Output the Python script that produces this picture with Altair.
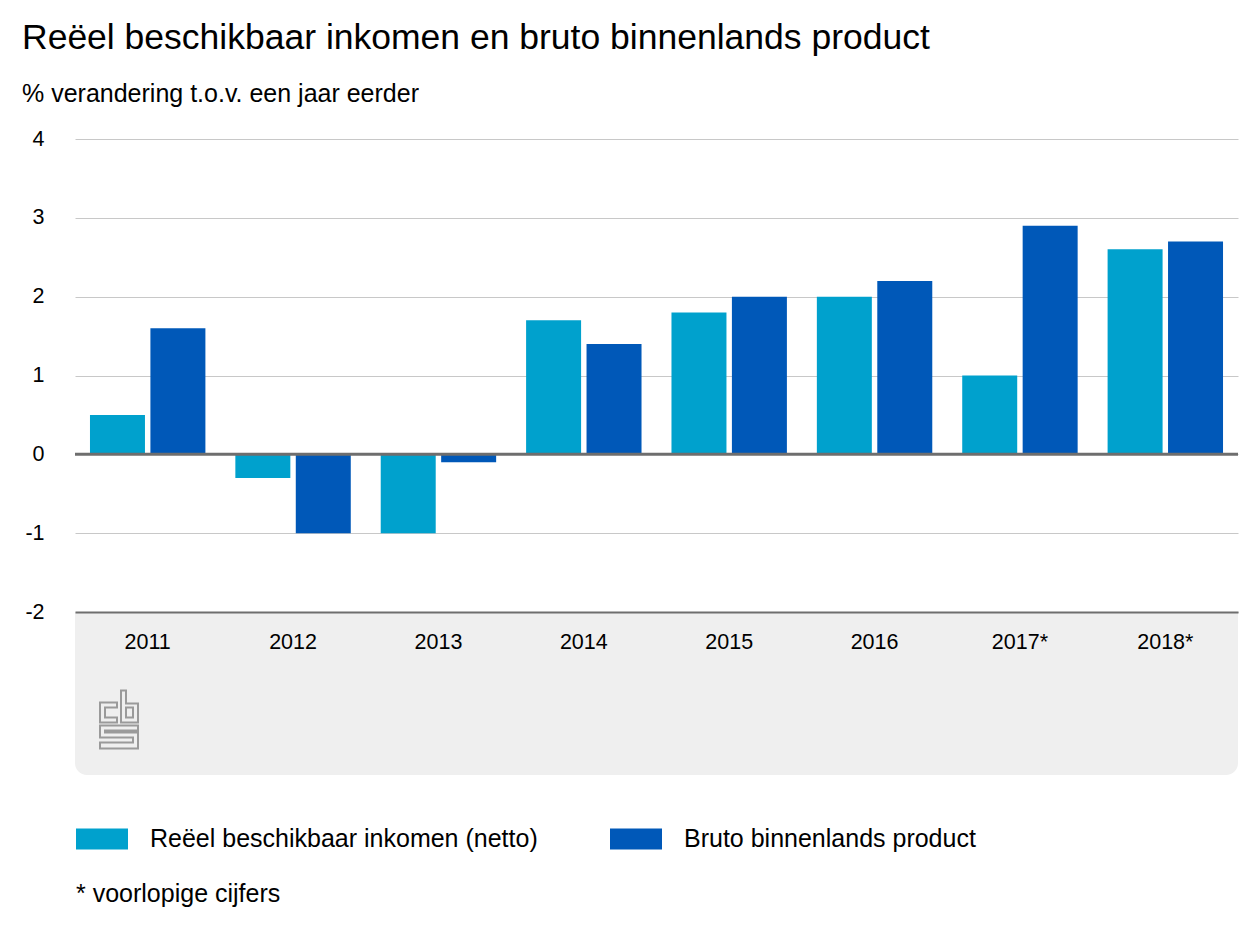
import altair as alt
import pandas as pd

years = ["2011", "2012", "2013", "2014", "2015", "2016", "2017*", "2018*"]
inkomen = [0.5, -0.3, -1.0, 1.7, 1.8, 2.0, 1.0, 2.6]
bbp = [1.6, -1.0, -0.1, 1.4, 2.0, 2.2, 2.9, 2.7]
series = ["Reëel beschikbaar inkomen (netto)", "Bruto binnenlands product"]
colors = ["#00a1cd", "#0058b8"]
y_ticks = [-2, -1, 0, 1, 2, 3, 4]

rows = []
for yr, a, b in zip(years, inkomen, bbp):
    rows.append({"jaar": yr, "reeks": series[0], "waarde": a})
    rows.append({"jaar": yr, "reeks": series[1], "waarde": b})
df = pd.DataFrame(rows)

W, H = 1163, 473
FONT = "Liberation Sans"

# logo outline (pixel units inside a 39x58 box), converted to unit coords
logo_px = [
    [(17, 12), (0, 12), (0, 32), (17, 32), (17, 27), (5, 27), (5, 17), (17, 17)],
    [(21, 0), (26, 0), (26, 13), (38, 13), (38, 32), (21, 32)],
    [(26, 17), (33, 17), (33, 27), (26, 27)],
    [(38, 35), (0, 35), (0, 47), (33, 47), (33, 52), (0, 52), (0, 58), (38, 58),
     (38, 42), (5, 42), (5, 40), (38, 40)],
]
def to_unit(p):
    return ((p[0] - 19.5) / 29.0, (p[1] - 29.0) / 29.0)
parts = []
for poly in logo_px:
    pts = [to_unit(p) for p in poly]
    parts.append("M" + " L".join(f"{x:.3f},{y:.3f}" for x, y in pts) + " Z")
logo_path = " ".join(parts)

swatch = "M-1,-0.4 L1,-0.4 L1,0.4 L-1,0.4 Z"

one = pd.DataFrame({"a": [0]})

panel = alt.Chart(one).mark_rect(
    color="#efefef", cornerRadiusBottomLeft=12, cornerRadiusBottomRight=12
).encode(x=alt.value(0), x2=alt.value(W), y=alt.value(H), y2=alt.value(H + 163))

bars = alt.Chart(df).mark_bar().encode(
    x=alt.X("jaar:N", sort=years,
            scale=alt.Scale(paddingInner=0.206, paddingOuter=0.103),
            axis=alt.Axis(title=None, labelAngle=0, labelFontSize=21.5, labelColor="#000",
                          labelPadding=19, ticks=False, domainColor="#6e6e6e",
                          domainWidth=2, zindex=1, labelFont=FONT, grid=False)),
    xOffset=alt.XOffset("reeks:N", sort=series,
                        scale=alt.Scale(paddingInner=0.09, paddingOuter=0)),
    y=alt.Y("waarde:Q", scale=alt.Scale(domain=[-2, 4], nice=False),
            axis=alt.Axis(title=None, values=y_ticks,
                          labelExpr="(datum.value < 0 ? '-' : '') + abs(datum.value)",
                          labelFontSize=21.5, labelColor="#000", labelPadding=31,
                          ticks=False, domain=False,
                          gridColor="#c8c8c8", gridWidth=1, labelFont=FONT)),
    color=alt.Color("reeks:N", sort=series,
                    scale=alt.Scale(domain=series, range=colors),
                    legend=alt.Legend(orient="none", legendX=1, legendY=674,
                                      direction="horizontal", title=None,
                                      symbolType=swatch, symbolSize=2704,
                                      symbolStrokeWidth=0, symbolOpacity=1,
                                      labelFontSize=25, labelOffset=22, labelColor="#000",
                                      labelFont=FONT, labelLimit=0, columnPadding=72)),
)

zero = alt.Chart(one).mark_rule(color="#6e6e6e", strokeWidth=3).encode(y=alt.datum(0))

logo = alt.Chart(one).mark_point(
    shape=logo_path, size=3364, filled=False, stroke="#9a9a9a", strokeWidth=2, opacity=1
).encode(x=alt.value(44.5), y=alt.value(580.5))

note = alt.Chart(one).mark_text(
    text="* voorlopige cijfers", align="left", baseline="alphabetic",
    fontSize=25, font=FONT, color="#000"
).encode(x=alt.value(1), y=alt.value(763))

chart = alt.layer(panel, bars, zero, logo, note).properties(
    width=W, height=H,
    title=alt.Title(
        "Reëel beschikbaar inkomen en bruto binnenlands product",
        subtitle="% verandering t.o.v. een jaar eerder",
        anchor="start", frame="group", dx=-53, offset=21,
        fontSize=35.5, fontWeight="normal", font=FONT, color="#000",
        subtitleFontSize=25, subtitleFont=FONT, subtitleColor="#000", subtitlePadding=26,
    ),
    autosize=alt.AutoSizeParams(type="none"),
    padding={"left": 67, "top": 131, "right": 14, "bottom": 320},
).configure(font=FONT).configure_view(stroke=None)

chart.save("out.html", embed_options={"renderer": "svg", "actions": False})
